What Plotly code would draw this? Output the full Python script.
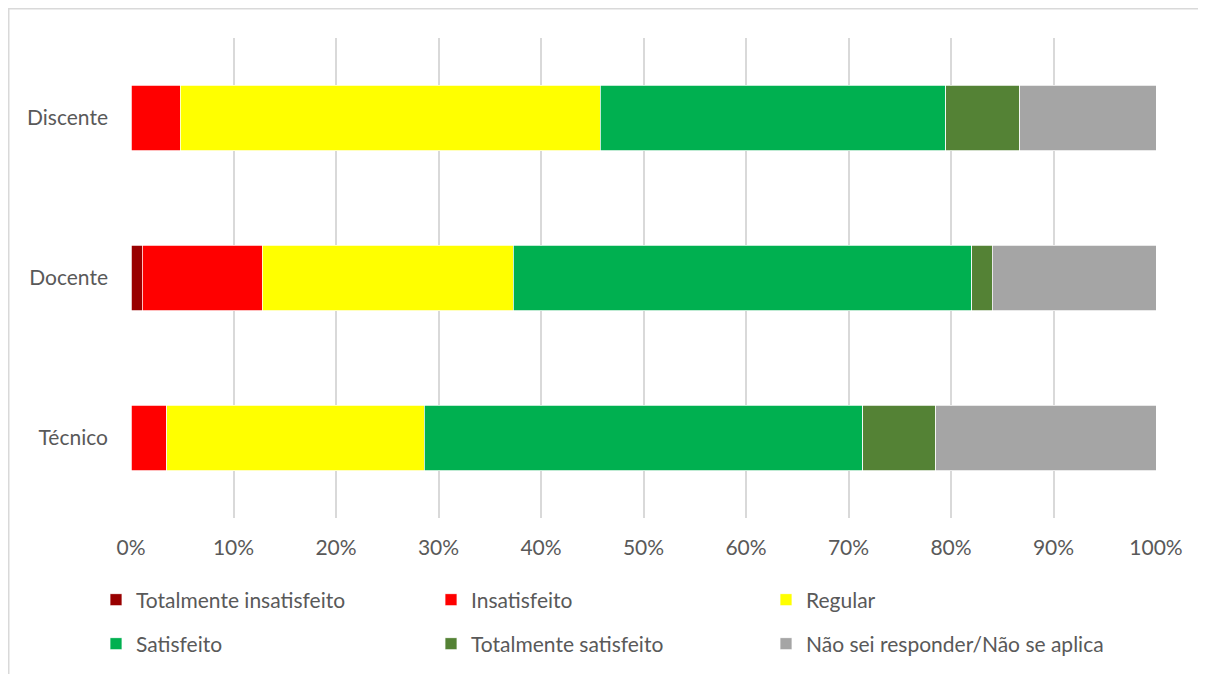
import plotly.graph_objects as go

# ── data ──
categorias = ["Discente", "Docente", "Técnico"]
totalmente_insatisfeito = [0.0, 1.1, 0.0]
insatisfeito = [4.8, 11.7, 3.5]
regular = [41.0, 24.5, 25.1]
satisfeito = [33.7, 44.7, 42.8]
totalmente_satisfeito = [7.2, 2.0, 7.1]
nao_sei = [13.3, 16.0, 21.5]

series = [
    ("Totalmente insatisfeito", totalmente_insatisfeito, "#990000", "legend"),
    ("Insatisfeito", insatisfeito, "#FF0000", "legend"),
    ("Regular", regular, "#FFFF00", "legend"),
    ("Satisfeito", satisfeito, "#00B050", "legend2"),
    ("Totalmente satisfeito", totalmente_satisfeito, "#548235", "legend2"),
    ("Não sei responder/Não se aplica", nao_sei, "#A5A5A5", "legend2"),
]

FONT = "Lato, Calibri, sans-serif"
TXT = "#595959"
# page body has an 8px margin; figure runs a bit past the window on the right/bottom
W, H = 1210, 690
L, T, PW, PH = 123, 30, 1025, 480

fig = go.Figure()
for name, vals, color, leg in series:
    fig.add_trace(go.Bar(
        y=categorias, x=vals, name=name, orientation='h',
        marker=dict(color=color, line=dict(color='white', width=0.75)),
        legend=leg, legendwidth=330 if name == series[-1][0] else 290,
        hovertemplate='%{y}: %{x:.1f}%<extra>' + name + '</extra>'
    ))

legend_common = dict(
    orientation='h', xanchor='left', yanchor='top',
    entrywidth=290, entrywidthmode='pixels',
    font=dict(family=FONT, size=21, color=TXT),
    bgcolor='rgba(0,0,0,0)', itemclick=False, traceorder='normal'
)

fig.update_layout(
    barmode='stack', bargap=0.59,
    width=W, height=H,
    margin=dict(l=L, r=W - L - PW, t=T, b=H - T - PH),
    paper_bgcolor='white', plot_bgcolor='white',
    font=dict(family=FONT, size=21, color=TXT),
    xaxis=dict(
        range=[0, 100], dtick=10, ticksuffix='%',
        showgrid=True, gridcolor='#D9D9D9', gridwidth=1.5,
        zeroline=False, showline=False, ticklabelstandoff=15,
        fixedrange=True
    ),
    yaxis=dict(
        categoryorder='array', categoryarray=categorias[::-1],
        showgrid=False, zeroline=False, showline=False,
        ticklabelstandoff=22, fixedrange=True
    ),
    legend=dict(x=(96 - 8 - L) / PW, y=1 - (571.5 - T) / PH, **legend_common),
    legend2=dict(x=(96 - 8 - L) / PW, y=1 - (615.5 - T) / PH, **legend_common),
    shapes=[dict(
        type='rect', xref='paper', yref='paper',
        x0=(0.75 - L) / PW, x1=(1400 - L) / PW,
        y0=-0.6, y1=1 + (T - 0.75) / PH,
        line=dict(color='#D9D9D9', width=1.5), layer='below'
    )]
)

fig.write_html("out.html")
